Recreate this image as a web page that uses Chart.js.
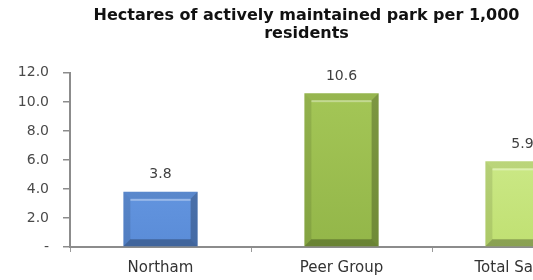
<!DOCTYPE html>
<html>
<head>
<meta charset="utf-8">
<script src="https://cdn.jsdelivr.net/npm/chart.js@4.4.1/dist/chart.umd.min.js"></script>
<style>
  html, body { margin: 0; padding: 0; background: #ffffff; }
  #wrap { width: 533px; height: 280px; overflow: hidden; position: relative; }
  canvas { display: block; }
</style>
</head>
<body>
<div id="wrap"><canvas id="c" width="620" height="280" style="width:620px;height:280px"></canvas></div>
<script>
const titleLines = ["Hectares of actively maintained park per 1,000", "residents"];
const categories = ["Northam", "Peer Group", "Total Sample"];
const values = [3.8, 10.6, 5.9];
const yTicks = [0, 2, 4, 6, 8, 10, 12];

const faceTop = ["#74a6ec", "#a6c858", "#d6f09a"];
const faceBottom = ["#5a8cd8", "#93b649", "#c0e072"];

const FONT = "'DejaVu Sans', 'Liberation Sans', Arial, sans-serif";

function faceColor(ctx) {
  const chart = ctx.chart;
  const i = ctx.dataIndex;
  const area = chart.chartArea;
  if (!area) return faceBottom[i];
  const g = chart.ctx.createLinearGradient(0, area.top, 0, area.bottom);
  g.addColorStop(0, faceTop[i]);
  g.addColorStop(1, faceBottom[i]);
  return g;
}

const bevelPlugin = {
  id: 'bevel',
  afterDatasetsDraw(chart) {
    const ctx = chart.ctx;
    const meta = chart.getDatasetMeta(0);
    meta.data.forEach((el) => {
      const p = el.getProps(['x', 'y', 'base', 'width'], true);
      const l = p.x - p.width / 2, r = p.x + p.width / 2;
      const t = Math.min(p.y, p.base), b = Math.max(p.y, p.base);
      const s = 7;
      const poly = (pts, fill) => {
        ctx.beginPath();
        ctx.moveTo(pts[0][0], pts[0][1]);
        for (let k = 1; k < pts.length; k++) ctx.lineTo(pts[k][0], pts[k][1]);
        ctx.closePath();
        ctx.fillStyle = fill;
        ctx.fill();
      };
      ctx.save();
      poly([[l, t], [r, t], [r - s, t + s], [l + s, t + s]], 'rgba(0,0,0,0.08)');
      poly([[l, t], [l + s, t + s], [l + s, b - s], [l, b]], 'rgba(0,0,0,0.10)');
      poly([[r, t], [r, b], [r - s, b - s], [r - s, t + s]], 'rgba(0,0,0,0.24)');
      poly([[l, b], [r, b], [r - s, b - s], [l + s, b - s]], 'rgba(0,0,0,0.28)');
      ctx.fillStyle = 'rgba(255,255,255,0.35)';
      ctx.fillRect(l + s, t + s, r - l - 2 * s, 2);
      ctx.restore();
    });
  }
};

const labelPlugin = {
  id: 'valueLabels',
  afterDatasetsDraw(chart) {
    const ctx = chart.ctx;
    const meta = chart.getDatasetMeta(0);
    ctx.save();
    ctx.font = "14px " + FONT;
    ctx.fillStyle = "#404040";
    ctx.textAlign = "center";
    ctx.textBaseline = "middle";
    meta.data.forEach((el, i) => {
      ctx.fillText(values[i].toFixed(1), el.x, el.y - 17);
    });
    ctx.restore();
  }
};

new Chart(document.getElementById('c'), {
  type: 'bar',
  data: {
    labels: categories,
    datasets: [{
      data: values,
      backgroundColor: faceColor,
      borderWidth: 0,
      categoryPercentage: 1.0,
      barPercentage: 0.41
    }]
  },
  options: {
    responsive: false,
    animation: false,
    devicePixelRatio: 1,
    layout: { padding: { left: 0, right: 7, top: 0, bottom: 0 } },
    plugins: {
      legend: { display: false },
      tooltip: { enabled: false },
      title: {
        display: true,
        text: titleLines,
        color: "#111111",
        font: { family: FONT, size: 16, weight: 'bold', lineHeight: 1.12 },
        padding: { top: 7, bottom: 30 }
      }
    },
    scales: {
      x: {
        grid: { display: true, drawOnChartArea: false, drawTicks: true, tickLength: 5, color: "#9a9a9a", lineWidth: 1, offset: true },
        border: { display: true, color: "#8c8c8c", width: 2 },
        ticks: { color: "#333333", font: { family: FONT, size: 15 }, padding: 7 },
        afterFit(scale) { scale.height = 33; }
      },
      y: {
        min: 0, max: 12,
        afterBuildTicks(scale) { scale.ticks = yTicks.map(v => ({ value: v })); },
        grid: { display: true, drawOnChartArea: false, drawTicks: true, tickLength: 7, color: "#8c8c8c", lineWidth: 1.5 },
        border: { display: true, color: "#8c8c8c", width: 2 },
        ticks: {
          color: "#4a4a4a",
          font: { family: FONT, size: 14 },
          padding: 14,
          callback: (v) => v === 0 ? "-" : Number(v).toFixed(1)
        },
        afterFit(scale) { scale.width = 70; }
      }
    }
  },
  plugins: [bevelPlugin, labelPlugin]
});
</script>
</body>
</html>
